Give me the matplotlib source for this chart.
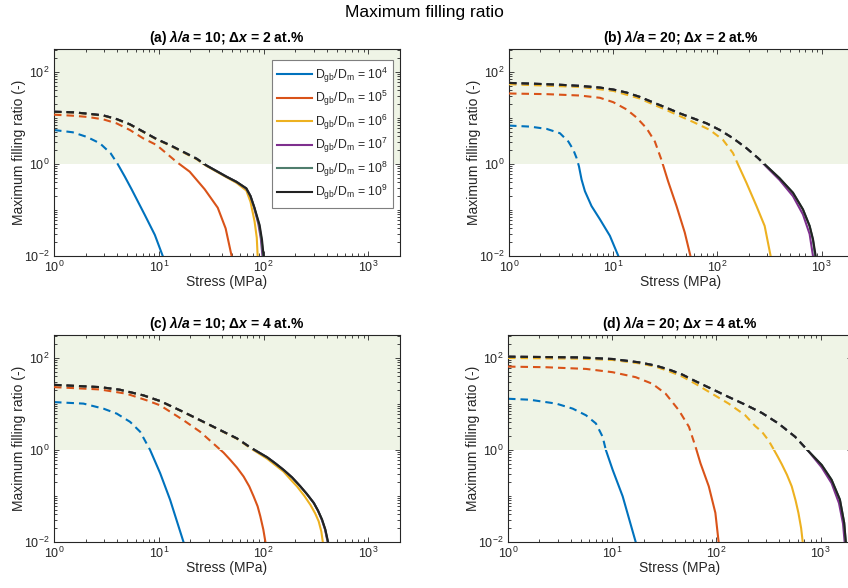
import numpy as np
import matplotlib
matplotlib.use("Agg")
import matplotlib.pyplot as plt
from matplotlib.patches import Rectangle
from matplotlib.ticker import LogLocator, LogFormatterSciNotation, NullFormatter

plt.rcParams['font.family'] = ['Liberation Sans', 'DejaVu Sans']
plt.rcParams['mathtext.fontset'] = 'custom'
plt.rcParams['mathtext.rm'] = 'Liberation Sans'
plt.rcParams['mathtext.it'] = 'Liberation Sans:italic'
plt.rcParams['mathtext.bf'] = 'Liberation Sans:bold'
plt.rcParams['mathtext.bfit'] = 'Liberation Sans:italic:bold'

# ---- series labels / colours ------------------------------------------------
ratio_exp = [4, 5, 6, 7, 8, 9]
line_colors = ['#0072BD', '#D95319', '#EDB120', '#7E2F8E', '#4f7d6d', '#222222']
panel_titles = [r'(a) $\mathbfit{\lambda/a}$ = 10; $\mathbf{\Delta}\mathbfit{x}$ = 2 at.%',
                r'(b) $\mathbfit{\lambda/a}$ = 20; $\mathbf{\Delta}\mathbfit{x}$ = 2 at.%',
                r'(c) $\mathbfit{\lambda/a}$ = 10; $\mathbf{\Delta}\mathbfit{x}$ = 4 at.%',
                r'(d) $\mathbfit{\lambda/a}$ = 20; $\mathbf{\Delta}\mathbfit{x}$ = 4 at.%']

# ---- panel (a): lambda/a = 10, dx = 2 at.% ----------------------------------
a_s4 = [1, 1.51, 2.07, 2.74, 3.47, 4.05, 4.74, 5.50, 7.36, 9.16, 10.9]
a_y4 = [5.48, 4.89, 3.86, 2.82, 1.71, 1.0, 0.531, 0.282, 0.0776, 0.0288, 0.01]
a_s5 = [1, 1.53, 2.12, 2.95, 3.95, 5.30, 7.10, 9.51, 11.8, 14.7, 19.7, 27.4, 36.5, 43.4, 49.5]
a_y5 = [11.8, 11.2, 10.5, 9.35, 7.66, 5.48, 3.61, 2.59, 1.71, 1.12, 0.681, 0.282, 0.112, 0.0398, 0.01]
a_s6 = [1, 1.53, 2.12, 2.95, 3.95, 5.30, 7.10, 9.51, 12.7, 17.0, 22.9, 28.4, 44.2, 55.0, 68.4, 75.0,
        82.0, 86.0, 87.7]
a_y6 = [13.5, 13.1, 12.2, 11.2, 9.35, 7.15, 4.95, 3.42, 2.53, 1.80, 1.27, 0.91, 0.515, 0.39, 0.265, 0.15,
        0.056, 0.025, 0.01]
a_s7 = [1, 1.53, 2.12, 2.95, 3.95, 5.30, 7.10, 9.51, 12.7, 17.0, 22.9, 28.4, 44.2, 55.0, 68.4, 75.0,
        81.0, 89.0, 94.0, 97.5]
a_y7 = [13.7, 13.3, 12.4, 11.4, 9.51, 7.28, 5.05, 3.49, 2.59, 1.85, 1.31, 0.935, 0.531, 0.41, 0.290,
        0.20, 0.115, 0.050, 0.024, 0.01]
a_s8 = [1, 1.53, 2.12, 2.95, 3.95, 5.30, 7.10, 9.51, 12.7, 17.0, 22.9, 28.4, 44.2, 55.0, 68.4, 75.0,
        81.5, 90.5, 95.5, 99.0]
a_y8 = [13.7, 13.3, 12.4, 11.4, 9.51, 7.28, 5.05, 3.49, 2.59, 1.85, 1.31, 0.935, 0.531, 0.41, 0.294,
        0.20, 0.113, 0.048, 0.023, 0.01]
a_s9 = [1, 1.53, 2.12, 2.95, 3.95, 5.30, 7.10, 9.51, 12.7, 17.0, 22.9, 28.4, 44.2, 55.0, 68.4, 75.0,
        82.0, 91.6, 96.5, 100]
a_y9 = [13.7, 13.3, 12.4, 11.4, 9.51, 7.28, 5.05, 3.49, 2.59, 1.85, 1.31, 0.935, 0.531, 0.41, 0.296,
        0.20, 0.110, 0.0468, 0.0224, 0.01]

# ---- panel (b): lambda/a = 20, dx = 2 at.% ----------------------------------
b_s4 = [1, 1.59, 2.30, 3.08, 3.71, 4.14, 4.45, 4.69, 4.97, 5.35, 6.19, 7.45, 9.29, 11.2]
b_y4 = [6.84, 6.50, 5.79, 4.67, 3.08, 2.04, 1.35, 0.891, 0.459, 0.257, 0.122, 0.063, 0.0275, 0.01]
b_s5 = [1, 2.30, 4.80, 7.45, 10, 13.4, 16.7, 20.9, 25.1, 29.0, 33.6, 40.5, 48.6, 55.1]
b_y5 = [34.1, 33.0, 30.8, 27.5, 22.1, 15.4, 10.3, 5.98, 3.08, 1.24, 0.423, 0.122, 0.0324, 0.01]
b_s6 = [1, 4.80, 10, 18.0, 24.2, 32.4, 43.6, 58.5, 84.5, 113, 141, 158, 190, 237, 284, 324]
b_y6 = [54.2, 47.4, 38.9, 26.5, 19.7, 14.9, 11.0, 8.20, 5.51, 3.35, 1.73, 0.968, 0.389, 0.122, 0.045, 0.01]
b_s7 = [1, 1.59, 2.86, 4.80, 7.45, 10, 13.4, 18.0, 24.2, 32.4, 43.6, 58.5, 78.5, 105, 141, 190,
        245, 295, 395, 531, 662, 767, 826]
b_y7 = [57.9, 56.0, 53.3, 49.9, 45.9, 41.6, 35.8, 28.8, 21.8, 16.7, 12.6, 9.84, 7.67, 5.51, 3.64, 2.21,
        1.35, 0.87, 0.45, 0.20, 0.08, 0.03, 0.01]
b_s8 = [1, 1.59, 2.86, 4.80, 7.45, 10, 13.4, 18.0, 24.2, 32.4, 43.6, 58.5, 78.5, 105, 141, 190,
        245, 295, 395, 531, 662, 767, 826, 865]
b_y8 = [57.9, 56.0, 53.3, 49.9, 45.9, 41.6, 35.8, 28.8, 21.8, 16.7, 12.6, 9.84, 7.67, 5.51, 3.64, 2.21,
        1.35, 0.91, 0.49, 0.237, 0.103, 0.045, 0.022, 0.01]
b_s9 = [1, 1.59, 2.86, 4.80, 7.45, 10, 13.4, 18.0, 24.2, 32.4, 43.6, 58.5, 78.5, 105, 141, 190,
        245, 295, 395, 531, 662, 767, 826, 877]
b_y9 = [57.9, 56.0, 53.3, 49.9, 45.9, 41.6, 35.8, 28.8, 21.8, 16.7, 12.6, 9.84, 7.67, 5.51, 3.64, 2.21,
        1.35, 0.91, 0.49, 0.237, 0.103, 0.045, 0.0233, 0.01]

# ---- panel (c): lambda/a = 10, dx = 4 at.% ----------------------------------
c_s4 = [1, 1.91, 2.96, 3.97, 5.32, 6.64, 8.26, 10.3, 12.8, 17.2]
c_y4 = [11.0, 10.2, 7.93, 6.18, 4.09, 2.49, 1.0, 0.313, 0.0834, 0.01]
c_s5 = [1, 2.75, 4.94, 7.68, 10.3, 17.2, 24.8, 35.8, 41.5, 48.1, 55.6, 64.4, 72.9, 80.2, 87.6, 92.9,
        99.3, 104]
c_y5 = [23.3, 20.7, 16.7, 12.0, 9.35, 4.44, 2.49, 1.18, 0.875, 0.608, 0.416, 0.265, 0.162, 0.0984,
        0.0598, 0.0364, 0.0187, 0.01]
c_s6 = [1, 2.75, 4.27, 7.14, 10.3, 17.2, 30.9, 55.6, 74.6, 108, 129, 155, 187, 208, 245, 279, 310, 335,
        355, 367]
c_y6 = [26.0, 23.2, 20.3, 15.3, 11.5, 6.65, 3.42, 1.75, 1.10, 0.646, 0.47, 0.339, 0.21, 0.162, 0.10,
        0.0646, 0.042, 0.0282, 0.017, 0.01]
c_s7 = [1, 2.75, 4.27, 7.14, 10.3, 17.2, 30.9, 55.6, 74.6, 108, 129, 155, 187, 224, 259, 301, 330,
        358, 385, 408]
c_y7 = [26.1, 23.3, 20.4, 15.4, 11.6, 6.71, 3.47, 1.79, 1.14, 0.695, 0.515, 0.370, 0.253, 0.162,
        0.110, 0.0706, 0.0482, 0.0308, 0.0187, 0.01]
c_s8 = [1, 2.75, 4.27, 7.14, 10.3, 17.2, 30.9, 55.6, 74.6, 108, 129, 155, 187, 224, 259, 301, 330,
        360, 387, 410]
c_y8 = [26.1, 23.3, 20.4, 15.4, 11.6, 6.71, 3.47, 1.79, 1.14, 0.695, 0.515, 0.370, 0.253, 0.162,
        0.110, 0.0706, 0.0482, 0.0308, 0.0187, 0.01]
c_s9 = [1, 2.75, 4.27, 7.14, 10.3, 17.2, 30.9, 55.6, 74.6, 108, 129, 155, 187, 224, 259, 301, 330,
        361, 388, 412]
c_y9 = [26.1, 23.3, 20.4, 15.4, 11.6, 6.71, 3.47, 1.79, 1.14, 0.695, 0.515, 0.370, 0.253, 0.162,
        0.110, 0.0706, 0.0482, 0.0308, 0.0187, 0.01]

# ---- panel (d): lambda/a = 20, dx = 4 at.% ----------------------------------
d_s4 = [1, 1.61, 2.90, 4.18, 5.60, 6.98, 8.09, 8.69, 10.1, 12.6, 16.8]
d_y4 = [13.0, 12.4, 10.2, 7.93, 5.69, 3.77, 1.94, 1.0, 0.370, 0.0984, 0.01]
d_s5 = [1, 2.32, 5.60, 10.1, 16.8, 24.3, 32.6, 43.6, 54.5, 63.0, 70.3, 84.5, 97.7, 105]
d_y5 = [65.0, 63.0, 57.9, 49.1, 38.3, 27.5, 16.7, 7.30, 3.19, 1.18, 0.515, 0.162, 0.0430, 0.01]
d_s6 = [1, 4.84, 10.1, 18.1, 26.1, 35.1, 47.0, 63.0, 90.9, 131, 189, 236, 273, 316, 353, 390, 424, 475,
        528, 575, 612, 650, 673]
d_y6 = [100, 96.8, 90.6, 76.7, 65.0, 51.5, 39.5, 27.5, 16.7, 10.2, 5.69, 3.3, 2.5, 1.62, 1.05, 0.70,
        0.49, 0.29, 0.162, 0.08, 0.043, 0.02, 0.01]
d_s7 = [1, 4.84, 10.1, 18.1, 26.1, 35.1, 47.0, 63.0, 90.9, 131, 189, 273, 394, 569, 762, 1023, 1274,
        1500, 1640, 1700]
d_y7 = [107, 103, 95.1, 80.5, 68.4, 56.0, 43.7, 31.3, 21.1, 14.2, 9.68, 6.40, 3.77, 1.94, 0.951, 0.42,
        0.19, 0.07, 0.025, 0.01]
d_s8 = [1, 4.84, 10.1, 18.1, 26.1, 35.1, 47.0, 63.0, 90.9, 131, 189, 273, 394, 569, 762, 1023, 1274,
        1531, 1683, 1740]
d_y8 = [107, 103, 95.1, 80.5, 68.4, 56.0, 43.7, 31.3, 21.1, 14.2, 9.68, 6.40, 3.77, 1.94, 0.951, 0.474,
        0.225, 0.0834, 0.0261, 0.01]
d_s9 = [1, 4.84, 10.1, 18.1, 26.1, 35.1, 47.0, 63.0, 90.9, 131, 189, 273, 394, 569, 762, 1023, 1274,
        1531, 1683, 1746]
d_y9 = [107, 103, 95.1, 80.5, 68.4, 56.0, 43.7, 31.3, 21.1, 14.2, 9.68, 6.40, 3.77, 1.94, 0.951, 0.474,
        0.225, 0.0834, 0.0261, 0.01]

panels = [
    [(a_s4, a_y4), (a_s5, a_y5), (a_s6, a_y6), (a_s7, a_y7), (a_s8, a_y8), (a_s9, a_y9)],
    [(b_s4, b_y4), (b_s5, b_y5), (b_s6, b_y6), (b_s7, b_y7), (b_s8, b_y8), (b_s9, b_y9)],
    [(c_s4, c_y4), (c_s5, c_y5), (c_s6, c_y6), (c_s7, c_y7), (c_s8, c_y8), (c_s9, c_y9)],
    [(d_s4, d_y4), (d_s5, d_y5), (d_s6, d_y6), (d_s7, d_y7), (d_s8, d_y8), (d_s9, d_y9)],
]

x_lim = (1, 2000)
y_lim = (1e-2, 10 ** 2.5)
threshold = 1.0

W, H = 848, 588
fig = plt.figure(figsize=(W / 100, H / 100), dpi=100)
# axes boxes in pixels: left, top, right, bottom
boxes = [(54, 49, 400, 256), (509, 49, 853, 256), (54, 335, 400, 542), (508, 335, 852, 542)]

ink = '#262626'
for k, (series, box) in enumerate(zip(panels, boxes)):
    l, t, r, b = box
    ax = fig.add_axes([l / W, 1 - b / H, (r - l) / W, (b - t) / H])
    ax.set_xscale('log')
    ax.set_yscale('log')
    ax.set_xlim(*x_lim)
    ax.set_ylim(*y_lim)
    ax.axhspan(threshold, y_lim[1], color='#eff4e6', lw=0, zorder=0)

    upper = Rectangle((x_lim[0], threshold), x_lim[1] - x_lim[0], y_lim[1] - threshold,
                      transform=ax.transData, visible=False)
    lower = Rectangle((x_lim[0], y_lim[0]), x_lim[1] - x_lim[0], threshold - y_lim[0],
                      transform=ax.transData, visible=False)
    ax.add_patch(upper)
    ax.add_patch(lower)
    for i, (s, y) in enumerate(series):
        dashed, = ax.plot(s, y, color=line_colors[i], lw=1.5, ls=(0, (3.6, 2.4)),
                          zorder=2 + i, solid_joinstyle='round')
        dashed.set_clip_path(upper)
        solid, = ax.plot(s, y, color=line_colors[i], lw=1.5, zorder=2 + i,
                         solid_joinstyle='round',
                         label=r'D$_{\rm gb}$/D$_{\rm m}$ = 10$^{%d}$' % ratio_exp[i])
        solid.set_clip_path(lower)

    ax.xaxis.set_major_locator(LogLocator(base=10, numticks=10))
    ax.xaxis.set_minor_locator(LogLocator(base=10, subs=np.arange(2, 10), numticks=20))
    ax.yaxis.set_major_locator(LogLocator(base=100, numticks=10))
    ax.yaxis.set_minor_locator(LogLocator(base=10, subs=np.arange(1, 10), numticks=20))
    ax.xaxis.set_minor_formatter(NullFormatter())
    ax.yaxis.set_minor_formatter(NullFormatter())
    ax.yaxis.set_major_formatter(LogFormatterSciNotation(base=10))
    ax.tick_params(which='both', direction='in', top=True, right=True, colors=ink,
                   labelsize=9, width=0.6)
    ax.tick_params(which='major', length=3.5, pad=3)
    ax.tick_params(which='minor', length=2)
    for sp in ax.spines.values():
        sp.set_color(ink)
        sp.set_linewidth(0.8)
    ax.set_xlabel('Stress (MPa)', fontsize=10, color=ink, labelpad=0)
    ax.set_ylabel('Maximum filling ratio (-)', fontsize=10, color=ink, labelpad=-1)
    ax.set_title(panel_titles[k], fontsize=10, fontweight='bold', color='black', pad=5)

    if k == 0:
        handles, labels = ax.get_legend_handles_labels()
        leg = ax.legend(handles, labels, loc='upper right', bbox_to_anchor=(0.98, 0.947),
                        fontsize=8.8, handlelength=2.8, labelspacing=0.35, borderpad=0.45,
                        handletextpad=0.25, fancybox=False, framealpha=1, edgecolor='#7f7f7f',
                        borderaxespad=0)
        leg.get_frame().set_linewidth(0.8)
        for txt in leg.get_texts():
            txt.set_color(ink)

fig.text(0.5, 1 - 13 / H, 'Maximum filling ratio', ha='center', va='center', fontsize=12.5,
         color='black')
fig.savefig('out.png', dpi=100)
